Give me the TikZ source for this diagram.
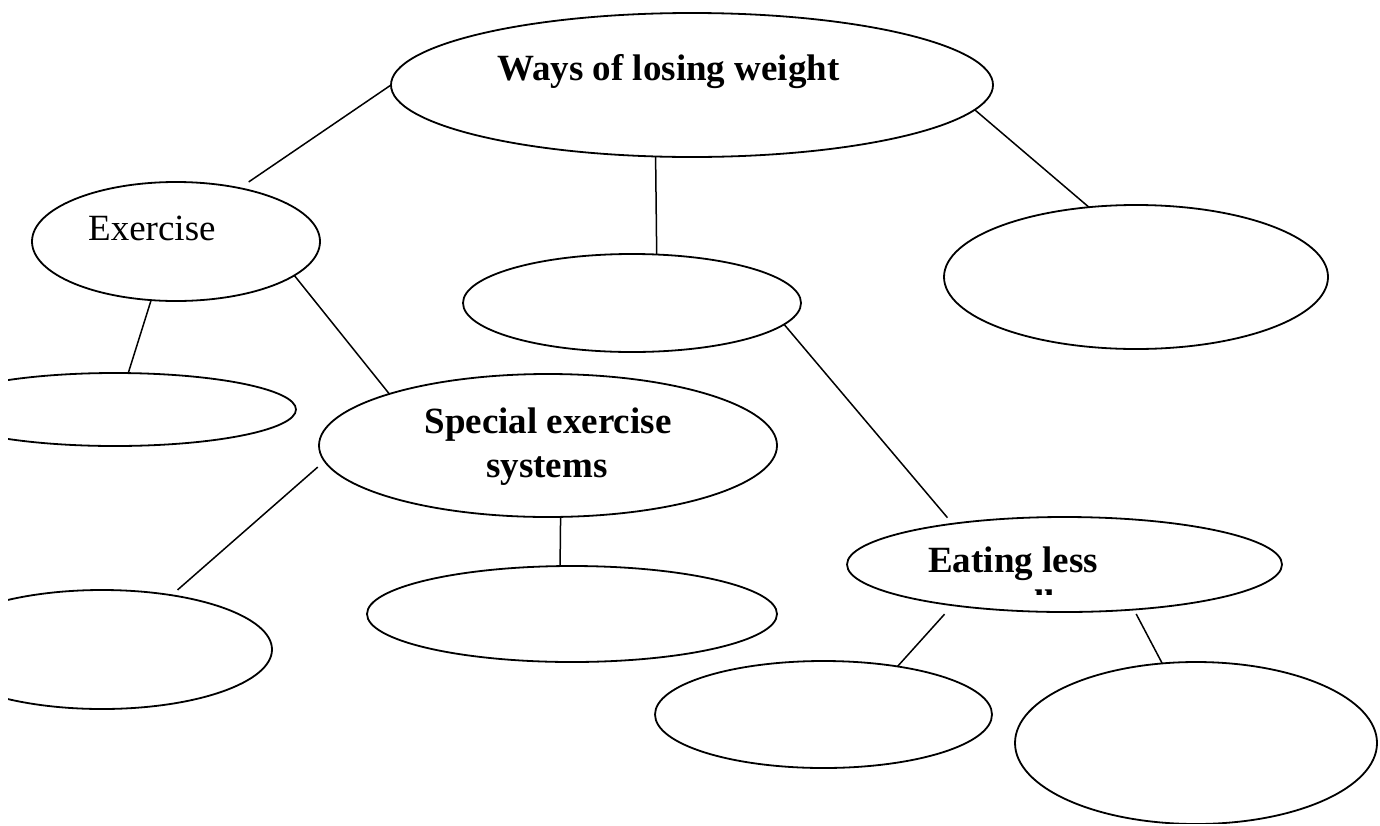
\documentclass[tikz,border=0pt]{standalone}
\usepackage{fontspec}
\setmainfont{Liberation Serif}
\usetikzlibrary{shapes.geometric}
\begin{document}
\begin{tikzpicture}[x=1pt,y=-1pt,
  oval/.style={draw,ellipse,line width=1.8pt,inner sep=0pt,outer sep=0pt},
  link/.style={line width=1.5pt},
  lbl/.style={anchor=base west,inner sep=0pt,font=\fontsize{37}{43}\selectfont},
  blbl/.style={lbl,font=\fontsize{37}{43}\selectfont\bfseries}]
\fill[white] (0,0) rectangle (1380,825);
\useasboundingbox (0,0) rectangle (1380,825);
\begin{scope}
\clip (8,0) rectangle (1380,823);
\node[oval,minimum width=602pt,minimum height=144pt] (top) at (692,85) {};
\node[oval,minimum width=288pt,minimum height=119pt] (ex) at (176,241.5) {};
\node[oval,minimum width=338pt,minimum height=98pt] (mid) at (632,303) {};
\node[oval,minimum width=384pt,minimum height=144pt] (rgt) at (1136,277) {};
\node[oval,minimum width=362pt,minimum height=73pt] (lm) at (115,409.5) {};
\node[oval,minimum width=458pt,minimum height=143pt] (sp) at (548,445.5) {};
\node[oval,minimum width=340pt,minimum height=119pt] (lb) at (102,649.5) {};
\node[oval,minimum width=410pt,minimum height=96pt] (bm) at (572,614) {};
\node[oval,minimum width=435pt,minimum height=95pt] (eat) at (1064.5,564.5) {};
\node[oval,minimum width=337pt,minimum height=107pt] (bc) at (823.5,714.5) {};
\node[oval,minimum width=362pt,minimum height=162pt] (br) at (1196,743) {};
\end{scope}
\draw[link,shorten >=11pt] (top.180) -- (ex.40.3);
\draw[link] (top.243.4) -- (mid.63.9);
\draw[link] (top.-5.55) -- (rgt.124.4);
\draw[link] (ex.247.3) -- (lm.70.4);
\draw[link] (ex.-16) -- (sp.162.9);
\draw[link,shorten >=8pt] (mid.-8.6) -- (eat.160.9);
\draw[link,shorten <=9pt,shorten >=8pt] (sp.184.8) -- (lb.38.7);
\draw[link] (sp.-80.5) -- (bm.104.1);
\draw[link,shorten <=12pt] (eat.200.1) -- (bc.33.7);
\draw[link,shorten <=5pt] (eat.-33) -- (br.113.8);
\node[blbl] (t1) at (497,80) {Ways of losing weight};
\node[lbl] (t2) at (88,240) {Exercise};
\node[blbl,anchor=base] (t3) at (548,433) {Special exercise};
\node[blbl,anchor=base] (t4) at (547,477) {systems};
\node[blbl] (t5) at (928,572) {Eating less};
\begin{scope}
\clip (1000,580) rectangle (1100,594);
\node[blbl] (t6) at (1034,615) {ll};
\end{scope}
\end{tikzpicture}
\end{document}
